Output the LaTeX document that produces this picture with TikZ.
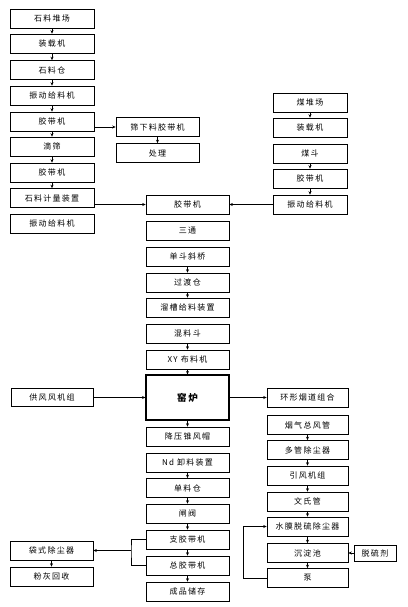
\documentclass[tikz,border=0pt]{standalone}
\usepackage{fontspec}
\setmainfont{Noto Sans CJK SC}[LetterSpace=16]
\usetikzlibrary{arrows.meta}

\tikzset{
  box/.style={draw, line width=0.6pt, minimum height=19pt, inner sep=0pt, font=\fontsize{8}{9.5}\selectfont},
  kilnbox/.style={box, line width=1.1pt, minimum height=45pt, font=\fontsize{9.5}{11}\selectfont\bfseries},
  >={Stealth[length=3.5pt,width=3pt]}
}

\begin{document}
\begin{tikzpicture}[x=1pt, y=-1pt, line width=0.6pt]
\useasboundingbox (0,0) rectangle (407,607);

% Stone line
\foreach \n/\y/\t in {s1/18.5/石料堆场, s2/43.5/装载机, s3/70/石料仓, s4/95.5/振动给料机,
    s5/121.5/胶带机, s6/146.5/滴筛, s7/172.5/胶带机, s8/198/石料计量装置, s9/223.5/振动给料机}
  \node[box, minimum width=84pt] (\n) at (52,\y) {\t};
\foreach \a/\b in {s1/s2, s2/s3, s3/s4, s4/s5, s5/s6, s6/s7, s7/s8}
  \draw[->] (\a) -- (\b);

% Screenings
\node[box, minimum width=83pt] (f1) at (157.5,127) {筛下料胶带机};
\node[box, minimum width=83pt] (f2) at (157.5,153) {处理};
\draw[->] (s5.east |- f1.west) -- (f1.west);
\draw[->] (f1) -- (f2);

% Coal line
\foreach \n/\y/\t in {m1/102.5/煤堆场, m2/127.5/装载机, m3/153.5/煤斗, m4/178.5/胶带机, m5/204.5/振动给料机}
  \node[box, minimum width=74pt] (\n) at (310,\y) {\t};
\foreach \a/\b in {m1/m2, m3/m4, m4/m5}
  \draw[->] (\a) -- (\b);

% Kiln feed
\foreach \n/\y/\t in {c1/204.5/胶带机, c2/230.5/三通, c3/256.5/单斗斜桥, c4/282.5/过渡仓,
    c5/307.5/溜槽给料装置, c6/333.5/混料斗, c7/359.5/XY 布料机}
  \node[box, minimum width=83pt] (\n) at (187.5,\y) {\t};
\node[kilnbox, minimum width=83pt] (kiln) at (187.5,397.5) {窑炉};
\foreach \a/\b in {c3/c4, c4/c5, c6/c7, c7/kiln}
  \draw[->] (\a) -- (\b);
\draw[->] (s8.east |- c1.west) -- (c1.west);
\draw[->] (m5.west) -- (c1.east);

% Air supply
\node[box, minimum width=82pt, minimum height=18pt] (fan) at (52,397.5) {供风风机组};
\draw[->] (fan) -- (kiln);

% Discharge
\foreach \n/\y/\t in {d1/436.5/降压锥风帽, d2/462.5/Nd 卸料装置, d3/488/单料仓, d4/513.5/闸阀,
    d5/539.5/支胶带机, d6/565.5/总胶带机, d7/591.5/成品储存}
  \node[box, minimum width=83pt] (\n) at (187.5,\y) {\t};
\foreach \a/\b in {kiln/d1, d2/d3, d3/d4, d4/d5, d5/d6, d6/d7}
  \draw[->] (\a) -- (\b);

% Dust collection
\node[box, minimum width=83pt] (bag) at (51.5,550.5) {袋式除尘器};
\node[box, minimum width=83pt] (ash) at (51.5,576.5) {粉灰回收};
\coordinate (jn) at (131,550.5);
\draw (d5.west) -| (jn) |- (d6.west);
\draw[->] (jn) -- (bag.east);
\draw[->] (bag) -- (ash);

% Flue gas
\foreach \n/\y/\t in {r1/397.5/环形烟道组合, r2/425/烟气总风管, r3/450/多管除尘器, r4/475.5/引风机组,
    r5/501.5/文氏管, r6/526.5/水膜脱硫除尘器, r7/553/沉淀池, r8/578/泵}
  \node[box, minimum width=81pt] (\n) at (307.5,\y) {\t};
\foreach \a/\b in {r2/r3, r3/r4, r4/r5, r5/r6, r6/r7, r7/r8}
  \draw[->] (\a) -- (\b);
\draw[->] (kiln) -- (r1);

% Desulfurizer
\node[box, minimum width=42pt, minimum height=16pt] (agent) at (375,553) {脱硫剂};
\draw[->] (agent) -- (r7);

% Pump return
\coordinate (ret) at (243,578);
\draw[->] (r8.west) -- (ret) |- (r6.west);

\end{tikzpicture}
\end{document}
